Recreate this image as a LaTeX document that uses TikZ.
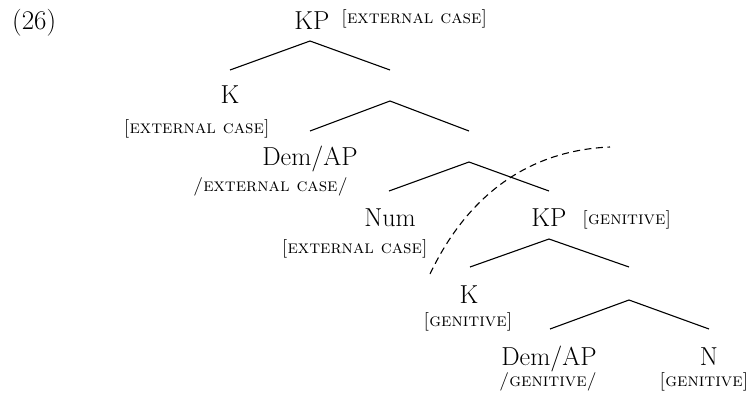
\documentclass[tikz,border=0pt]{standalone}
\usepackage{fontspec}
\begin{document}
\begin{tikzpicture}[x=1pt,y=-1pt,
  cat/.style={inner sep=0pt,anchor=base,font=\fontsize{26}{30}\selectfont},
  feat/.style={inner sep=0pt,font=\fontsize{18.5}{22}\selectfont\scshape},
  branch/.style={line width=1.1pt},
  arc/.style={line width=1.1pt,dash pattern=on 7pt off 4.5pt}]
\useasboundingbox (0,0) rectangle (755,399);

% example number
\node[cat,anchor=base west,font=\fontsize{27}{31}\selectfont] (num26) at (12,29) {(26)};

% category labels
\node[cat] (kp1)  at (312,29)  {KP};
\node[cat] (k1)   at (230,103) {K};
\node[cat] (dem1) at (310,165) {Dem/AP};
\node[cat] (numn) at (390,226) {Num};
\node[cat] (kp2)  at (549,226) {KP};
\node[cat] (k2)   at (469,303) {K};
\node[cat] (dem2) at (549,365) {Dem/AP};
\node[cat] (nn)   at (709,365) {N};

% case features
\node[feat,anchor=base west] (f-kp1)  at (341,23)  {[external case]};
\node[feat,anchor=base east] (f-k1)   at (270,133) {[external case]};
\node[feat,anchor=base east] (f-dem1) at (348,191) {/external case/};
\node[feat,anchor=base east] (f-num)  at (428,253) {[external case]};
\node[feat,anchor=base west] (f-kp2)  at (582,224) {[genitive]};
\node[feat,anchor=base]      (f-k2)   at (468,326) {[genitive]};
\node[feat,anchor=base]      (f-dem2) at (548,386) {/genitive/};
\node[feat,anchor=base]      (f-n)    at (704,386) {[genitive]};

% branching points and branch ends
\coordinate (t1) at (310,41);  \coordinate (l1) at (230,70);  \coordinate (r1) at (390,70);
\coordinate (t2) at (390,101); \coordinate (l2) at (310,131); \coordinate (r2) at (469,131);
\coordinate (t3) at (469,162); \coordinate (l3) at (389,191); \coordinate (r3) at (549,191);
\coordinate (t4) at (549,239); \coordinate (l4) at (470,267); \coordinate (r4) at (629,267);
\coordinate (t5) at (629,300); \coordinate (l5) at (550,329); \coordinate (r5) at (709,329);

\foreach \i in {1,...,5}{
  \draw[branch] (l\i) -- (t\i) -- (r\i);
}

% dashed boundary
\coordinate (d1) at (430,274);
\coordinate (d2) at (610,147);
\draw[arc] (d1) .. controls (472,186) and (538,150) .. (d2);
\end{tikzpicture}
\end{document}
